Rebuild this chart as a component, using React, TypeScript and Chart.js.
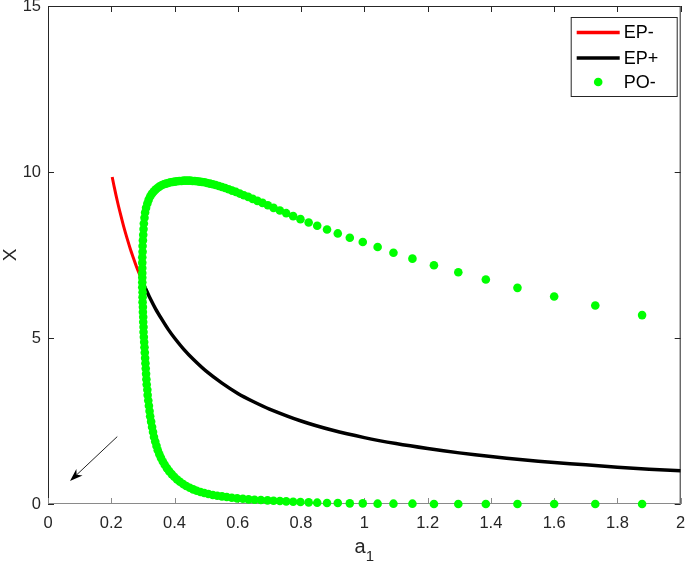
import { useEffect, useRef } from 'react';
import { Chart, registerables } from 'chart.js';

Chart.register(...registerables);

// ---------- data ----------
const X_TICKS = [0, 0.2, 0.4, 0.6, 0.8, 1, 1.2, 1.4, 1.6, 1.8, 2];
const X_TICK_LABELS = ['0', '0.2', '0.4', '0.6', '0.8', '1', '1.2', '1.4', '1.6', '1.8', '2'];
const Y_TICKS = [0, 5, 10, 15];
const Y_TICK_LABELS = ['0', '5', '10', '15'];

const EP_MINUS_X = [0.203, 0.21, 0.22, 0.23, 0.24, 0.25, 0.26, 0.27, 0.28, 0.29, 0.298];
const EP_MINUS_Y = [9.85, 9.52, 9.09, 8.70, 8.33, 8.00, 7.69, 7.41, 7.14, 6.90, 6.71];

const EP_PLUS_X = [0.298, 0.306, 0.32, 0.34, 0.36, 0.38, 0.4, 0.43, 0.46, 0.5, 0.55, 0.6, 0.65, 0.7, 0.8, 0.9, 1.0, 1.1, 1.2, 1.3, 1.4, 1.5, 1.6, 1.7, 1.8, 1.9, 2.0];
const EP_PLUS_Y = [6.71, 6.54, 6.25, 5.88, 5.56, 5.26, 5.0, 4.65, 4.35, 4.0, 3.64, 3.33, 3.08, 2.86, 2.5, 2.22, 2.0, 1.82, 1.67, 1.54, 1.43, 1.33, 1.25, 1.18, 1.11, 1.05, 1.0];

// PO- : maximum of the orbit (upper branch)
const PO_MAX_X = [
  1.878, 1.730, 1.600, 1.484, 1.384, 1.297, 1.220, 1.152, 1.092, 1.042,
  0.995, 0.954, 0.916, 0.882, 0.851, 0.824, 0.798, 0.775, 0.753, 0.733,
  0.713, 0.695, 0.678, 0.662, 0.647, 0.633, 0.619, 0.606, 0.594, 0.582,
  0.571, 0.560, 0.550, 0.540, 0.530, 0.521, 0.512, 0.503, 0.495, 0.487,
  0.479, 0.471, 0.464, 0.457, 0.450, 0.443, 0.436, 0.429, 0.422, 0.415,
  0.408, 0.401, 0.394, 0.387, 0.380, 0.373, 0.366, 0.359, 0.352, 0.346,
  0.340, 0.334, 0.328, 0.323, 0.318, 0.314, 0.310, 0.307, 0.305, 0.303,
  0.302, 0.301, 0.300, 0.299, 0.299, 0.298, 0.298, 0.298, 0.298, 0.298,
];
const PO_MAX_Y = [
  5.69, 5.98, 6.25, 6.51, 6.76, 6.98, 7.19, 7.39, 7.57, 7.74,
  7.89, 8.02, 8.15, 8.27, 8.38, 8.48, 8.58, 8.67, 8.76, 8.84,
  8.92, 9.00, 9.07, 9.13, 9.19, 9.25, 9.30, 9.35, 9.40, 9.44,
  9.48, 9.52, 9.55, 9.58, 9.61, 9.63, 9.65, 9.67, 9.69, 9.70,
  9.71, 9.72, 9.73, 9.73, 9.74, 9.74, 9.74, 9.74, 9.73, 9.73,
  9.72, 9.71, 9.70, 9.69, 9.67, 9.65, 9.63, 9.60, 9.56, 9.52,
  9.47, 9.41, 9.34, 9.26, 9.16, 9.05, 8.92, 8.78, 8.62, 8.45,
  8.28, 8.11, 7.94, 7.77, 7.60, 7.43, 7.27, 7.11, 6.96, 6.82,
];

// PO- : minimum of the orbit (lower branch)
const PO_MIN_X = [
  0.298, 0.298, 0.299, 0.299, 0.299, 0.300, 0.300, 0.301, 0.301, 0.302,
  0.302, 0.303, 0.304, 0.305, 0.306, 0.307, 0.308, 0.309, 0.310, 0.311,
  0.312, 0.314, 0.315, 0.317, 0.319, 0.321, 0.323, 0.326, 0.329, 0.332,
  0.335, 0.339, 0.343, 0.347, 0.352, 0.357, 0.363, 0.369, 0.376, 0.383,
  0.391, 0.399, 0.408, 0.417, 0.427, 0.437, 0.448, 0.459, 0.470, 0.482,
  0.494, 0.507, 0.521, 0.535, 0.550, 0.565, 0.581, 0.598, 0.616, 0.634,
  0.653, 0.673, 0.694, 0.713, 0.733, 0.753, 0.775, 0.798, 0.824, 0.851,
  0.882, 0.916, 0.954, 0.995, 1.042, 1.092, 1.152, 1.220, 1.297, 1.384,
  1.484, 1.600, 1.730, 1.878,
];
const PO_MIN_Y = [
  6.68, 6.53, 6.38, 6.23, 6.08, 5.93, 5.78, 5.63, 5.48, 5.33,
  5.18, 5.03, 4.88, 4.72, 4.56, 4.40, 4.24, 4.08, 3.92, 3.76,
  3.60, 3.44, 3.28, 3.12, 2.96, 2.80, 2.64, 2.48, 2.32, 2.17,
  2.02, 1.88, 1.75, 1.62, 1.50, 1.39, 1.28, 1.18, 1.08, 0.99,
  0.90, 0.82, 0.74, 0.67, 0.60, 0.54, 0.49, 0.44, 0.40, 0.36,
  0.33, 0.30, 0.27, 0.25, 0.23, 0.21, 0.19, 0.17, 0.16, 0.14,
  0.13, 0.12, 0.11, 0.10, 0.09, 0.08, 0.07, 0.06, 0.05, 0.04,
  0.03, 0.03, 0.02, 0.02, 0.01, 0.01, 0.01, 0.0, 0.0, 0.0,
  0.0, 0.0, 0.0, 0.0,
];

// annotation arrow (data coords: start -> tip)
const ARROW_FROM = [0.219, 2.03];
const ARROW_TO = [0.0695, 0.69];

const LEGEND_LABELS = ['EP-', 'EP+', 'PO-'];
const X_TITLE = 'a';
const X_TITLE_SUB = '1';
const Y_TITLE = 'X';

// ---------- styles ----------
const FONT = '"Liberation Sans", Arial, Helvetica, sans-serif';
const AXIS = '#262626';
const RED = '#ff0000';
const BLACK = '#000000';
const GREEN = '#00ff00';
const DOT_R = 4.3;

const pts = (xs: number[], ys: number[]) => xs.map((x, i) => ({ x, y: ys[i] }));

const decor = {
  id: 'decor',
  beforeDatasetsDraw(chart: any) {
    const { ctx, chartArea: a, scales } = chart;
    const xs = scales.x;
    const ys = scales.y;
    ctx.save();
    ctx.lineWidth = 1;
    // box
    ctx.strokeStyle = AXIS;
    ctx.beginPath();
    ctx.moveTo(a.left + 0.5, a.bottom);
    ctx.lineTo(a.left + 0.5, a.top + 0.5);
    ctx.lineTo(a.right - 0.5, a.top + 0.5);
    ctx.lineTo(a.right - 0.5, a.bottom);
    ctx.stroke();
    ctx.strokeStyle = '#8a8a8a';
    ctx.beginPath();
    ctx.moveTo(a.left, a.bottom - 0.5);
    ctx.lineTo(a.right, a.bottom - 0.5);
    ctx.stroke();
    // inward ticks
    const TL = 6;
    X_TICKS.forEach((v) => {
      const px = Math.round(xs.getPixelForValue(v)) + 0.5;
      ctx.strokeStyle = '#8a8a8a';
      ctx.beginPath();
      ctx.moveTo(px, a.bottom);
      ctx.lineTo(px, a.bottom - TL);
      ctx.stroke();
      ctx.strokeStyle = AXIS;
      ctx.beginPath();
      ctx.moveTo(px, a.top);
      ctx.lineTo(px, a.top + TL);
      ctx.stroke();
    });
    ctx.strokeStyle = AXIS;
    Y_TICKS.forEach((v) => {
      const py = Math.round(ys.getPixelForValue(v)) + 0.5;
      ctx.beginPath();
      ctx.moveTo(a.left, py);
      ctx.lineTo(a.left + TL, py);
      ctx.moveTo(a.right, py);
      ctx.lineTo(a.right - TL, py);
      ctx.stroke();
    });
    ctx.restore();
  },
  afterDatasetsDraw(chart: any) {
    const { ctx, chartArea: a, scales } = chart;
    const xs = scales.x;
    const ys = scales.y;
    ctx.save();

    // arrow
    const x0 = xs.getPixelForValue(ARROW_FROM[0]);
    const y0 = ys.getPixelForValue(ARROW_FROM[1]);
    const x1 = xs.getPixelForValue(ARROW_TO[0]);
    const y1 = ys.getPixelForValue(ARROW_TO[1]);
    const ang = Math.atan2(y1 - y0, x1 - x0);
    const HL = 13;
    const HW = 4.5;
    const bx = x1 - HL * Math.cos(ang);
    const by = y1 - HL * Math.sin(ang);
    const nx = x1 - HL * 0.7 * Math.cos(ang);
    const ny = y1 - HL * 0.7 * Math.sin(ang);
    ctx.strokeStyle = '#222';
    ctx.lineWidth = 1;
    ctx.beginPath();
    ctx.moveTo(x0, y0);
    ctx.lineTo(nx, ny);
    ctx.stroke();
    ctx.fillStyle = '#000';
    ctx.beginPath();
    ctx.moveTo(x1, y1);
    ctx.lineTo(bx + HW * Math.sin(ang), by - HW * Math.cos(ang));
    ctx.lineTo(nx, ny);
    ctx.lineTo(bx - HW * Math.sin(ang), by + HW * Math.cos(ang));
    ctx.closePath();
    ctx.fill();

    // legend
    const lx = a.right - 110;
    const ly = a.top + 11;
    const lw = 107;
    const lh = 80;
    ctx.fillStyle = '#fff';
    ctx.fillRect(lx, ly, lw, lh);
    ctx.strokeStyle = AXIS;
    ctx.lineWidth = 1;
    ctx.strokeRect(lx + 0.5, ly + 0.5, lw - 1, lh - 1);
    const rows = [ly + 15.5, ly + 41, ly + 65];
    ctx.lineWidth = 3.5;
    ctx.strokeStyle = RED;
    ctx.beginPath();
    ctx.moveTo(lx + 6, rows[0]);
    ctx.lineTo(lx + 49, rows[0]);
    ctx.stroke();
    ctx.strokeStyle = BLACK;
    ctx.beginPath();
    ctx.moveTo(lx + 6, rows[1]);
    ctx.lineTo(lx + 49, rows[1]);
    ctx.stroke();
    ctx.fillStyle = GREEN;
    ctx.beginPath();
    ctx.arc(lx + 27.5, rows[2], DOT_R, 0, Math.PI * 2);
    ctx.fill();
    ctx.fillStyle = '#000';
    ctx.font = `18px ${FONT}`;
    ctx.textAlign = 'left';
    ctx.textBaseline = 'middle';
    LEGEND_LABELS.forEach((t, i) => ctx.fillText(t, lx + 53, rows[i] + 1));

    // x title with subscript
    ctx.fillStyle = AXIS;
    ctx.textBaseline = 'alphabetic';
    ctx.font = `20px ${FONT}`;
    const cx = (a.left + a.right) / 2;
    const wa = ctx.measureText(X_TITLE).width;
    ctx.font = `15px ${FONT}`;
    const ws = ctx.measureText(X_TITLE_SUB).width;
    const start = cx - (wa + ws) / 2;
    ctx.font = `20px ${FONT}`;
    ctx.fillText(X_TITLE, start, a.bottom + 49);
    ctx.font = `15px ${FONT}`;
    ctx.fillText(X_TITLE_SUB, start + wa, a.bottom + 57);

    // y title
    ctx.save();
    ctx.translate(11, (a.top + a.bottom) / 2);
    ctx.rotate(-Math.PI / 2);
    ctx.font = `19px ${FONT}`;
    ctx.textAlign = 'center';
    ctx.textBaseline = 'middle';
    ctx.fillText(Y_TITLE, 0, 0);
    ctx.restore();

    ctx.restore();
  },
};

export default function App() {
  const ref = useRef<HTMLCanvasElement | null>(null);
  useEffect(() => {
    if (!ref.current) return;
    const chart = new Chart(ref.current, {
      type: 'scatter',
      data: {
        datasets: [
          {
            label: LEGEND_LABELS[0],
            data: pts(EP_MINUS_X, EP_MINUS_Y),
            showLine: true,
            borderColor: RED,
            borderWidth: 3,
            pointRadius: 0,
            tension: 0.3,
            order: 2,
          },
          {
            label: LEGEND_LABELS[1],
            data: pts(EP_PLUS_X, EP_PLUS_Y),
            showLine: true,
            borderColor: BLACK,
            borderWidth: 3.5,
            pointRadius: 0,
            tension: 0.3,
            order: 2,
          },
          {
            label: LEGEND_LABELS[2],
            data: [...pts(PO_MAX_X, PO_MAX_Y), ...pts(PO_MIN_X, PO_MIN_Y)],
            showLine: false,
            pointRadius: DOT_R,
            pointBorderWidth: 0,
            backgroundColor: GREEN,
            borderColor: GREEN,
            order: 0,
            clip: false as any,
          },
        ],
      },
      options: {
        animation: false,
        responsive: true,
        maintainAspectRatio: false,
        layout: { padding: { top: 6, right: 4, left: 0, bottom: 0 } },
        plugins: { legend: { display: false }, tooltip: { enabled: false } },
        scales: {
          x: {
            type: 'linear',
            min: 0,
            max: 2,
            grid: { display: false, drawTicks: false },
            border: { display: false },
            afterBuildTicks: (s: any) => {
              s.ticks = X_TICKS.map((v) => ({ value: v }));
            },
            afterFit: (s: any) => {
              s.height = 58;
              s.paddingLeft = 0;
              s.paddingRight = 0;
            },
            ticks: {
              autoSkip: false,
              maxRotation: 0,
              padding: 10,
              color: AXIS,
              font: { family: FONT, size: 16.5 },
              callback: (_v: any, i: number) => X_TICK_LABELS[i],
            },
          },
          y: {
            type: 'linear',
            min: 0,
            max: 15,
            grid: { display: false, drawTicks: false },
            border: { display: false },
            afterBuildTicks: (s: any) => {
              s.ticks = Y_TICKS.map((v) => ({ value: v }));
            },
            afterFit: (s: any) => {
              s.width = 48;
              s.paddingTop = 0;
              s.paddingBottom = 0;
            },
            ticks: {
              autoSkip: false,
              padding: 7,
              color: AXIS,
              font: { family: FONT, size: 16.5 },
              callback: (_v: any, i: number) => Y_TICK_LABELS[i],
            },
          },
        },
      },
      plugins: [decor],
    });
    return () => chart.destroy();
  }, []);
  return (
    <div style={{ position: 'fixed', left: 0, top: 0, width: 685, height: 562, background: '#fff' }}>
      <canvas ref={ref} />
    </div>
  );
}
